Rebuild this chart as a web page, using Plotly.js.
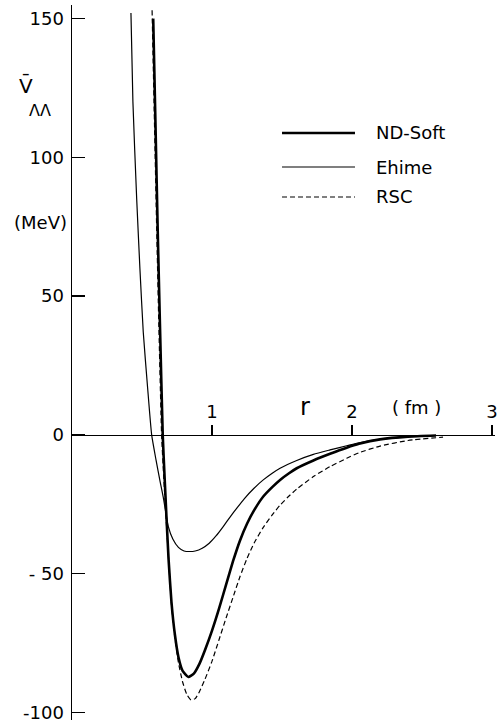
<!DOCTYPE html>
<html>
<head>
<meta charset="utf-8">
<script src="https://cdn.plot.ly/plotly-3.0.1.min.js"></script>
<style>html,body{margin:0;padding:0;background:#fff;}#chart{width:499px;height:724px;}</style>
</head>
<body>
<div id="chart"></div>
<script>
// ND-Soft (thick solid)
const ndR = [0.580,0.597,0.612,0.628,0.648,0.662,0.676,0.690,0.710,0.735,0.760,0.790,0.831,0.870,0.910,0.950,1.000,1.050,1.100,1.150,1.200,1.250,1.300,1.366,1.430,1.486,1.550,1.605,1.724,1.843,1.962,2.050,2.200,2.400,2.600];
const ndV = [150,110,74,40,0,-16,-31,-45,-60,-72,-80,-85,-87.2,-86,-82.5,-77.5,-70.5,-62.6,-54,-45.5,-38,-32,-27.2,-22.2,-18.8,-16.2,-13.8,-12,-9.2,-6.8,-4.6,-3.2,-1.6,-0.6,-0.2];
// Ehime (thin solid)
const ehR = [0.421,0.435,0.462,0.485,0.509,0.540,0.569,0.600,0.630,0.652,0.670,0.688,0.720,0.760,0.800,0.840,0.880,0.930,0.980,1.030,1.080,1.130,1.180,1.230,1.300,1.366,1.430,1.486,1.605,1.724,1.843,1.962,2.050,2.200,2.400,2.600];
const ehV = [152,120,85,60,37,17,0,-9,-17,-22.5,-28,-33,-37.5,-40.5,-41.8,-42,-41.8,-40.8,-39,-36.3,-33,-29.5,-26.2,-23,-19.2,-16.2,-13.8,-12,-9.2,-7,-5.4,-3.9,-2.8,-1.6,-0.7,-0.2];
// RSC (dashed)
const rsR = [0.572,0.590,0.605,0.620,0.640,0.655,0.672,0.690,0.712,0.735,0.760,0.790,0.820,0.850,0.880,0.910,0.950,1.000,1.050,1.100,1.150,1.200,1.250,1.300,1.366,1.430,1.486,1.550,1.605,1.724,1.843,1.962,2.050,2.200,2.400,2.650];
const rsV = [153,110,74,40,0,-15,-30,-45,-62,-73,-82,-89,-93.5,-95.5,-95,-92.5,-88,-81.5,-73.8,-66,-58.5,-51,-44.5,-39,-33.3,-28.8,-25.3,-22,-19.5,-15,-11.4,-8.4,-6.4,-4,-2,-0.8];

const seriesNames = ['ND-Soft','Ehime','RSC'];
const yTickVals = [150,100,50,0,-50,-100];
const yTickText = ['150','100','50','0','- 50','-100'];
const xTickVals = [1,2,3];
const xTickText = ['1','2','3'];

const yRange = [-102.7, 154.9];
const xRange = [0, 3.021];
const FONT = 'DejaVu Sans';

const styles = [
  {color:'#000', width:2.6, dash:'solid'},
  {color:'#000', width:1.2, dash:'solid'},
  {color:'#000', width:1.2, dash:'5px,3px'}
];
const xs = [ndR, ehR, rsR];
const ys = [ndV, ehV, rsV];

const traces = seriesNames.map((n,i)=>({
  x: xs[i], y: ys[i], name: n, type:'scatter', mode:'lines',
  line: Object.assign({shape:'spline', smoothing:0.5}, styles[i]),
  showlegend:false, hoverinfo:'skip'
}));

// legend drawn manually (long line samples)
const legY = [0.821, 0.7734, 0.7315];
const shapes = seriesNames.map((n,i)=>({
  type:'line', xref:'paper', yref:'paper', x0:0.4965, x1:0.669, y0:legY[i], y1:legY[i],
  line:{color:'#000', width:styles[i].width, dash:styles[i].dash}
}));
const annotations = seriesNames.map((n,i)=>({
  xref:'paper', yref:'paper', x:0.7140, y:legY[i], xanchor:'left', yanchor:'middle',
  text:n, showarrow:false, font:{family:FONT, size:18, color:'#000'}
}));
annotations.push(
  {xref:'paper', yref:'paper', x:(26-72)/423, y:(720-86)/715, xanchor:'center', yanchor:'middle', text:'V\u0304', showarrow:false, font:{family:FONT, size:20, color:'#000'}},
  {xref:'paper', yref:'paper', x:(40-72)/423, y:(720-110)/715, xanchor:'center', yanchor:'middle', text:'\u039B\u039B', showarrow:false, font:{family:FONT, size:16, color:'#000'}},
  {xref:'paper', yref:'paper', x:(40-72)/423, y:(720-223)/715, xanchor:'center', yanchor:'middle', text:'(MeV)', showarrow:false, font:{family:FONT, size:18, color:'#000'}},
  {xref:'paper', yref:'paper', x:(305-72)/423, y:(720-407)/715, xanchor:'center', yanchor:'middle', text:'r', showarrow:false, font:{family:FONT, size:24, color:'#000'}},
  {xref:'paper', yref:'paper', x:(416-72)/423, y:(720-407)/715, xanchor:'center', yanchor:'middle', text:'( fm )', showarrow:false, font:{family:FONT, size:18, color:'#000'}}
);

const layout = {
  width:499, height:724,
  margin:{l:72, r:4, t:5, b:4, pad:0},
  paper_bgcolor:'#fff', plot_bgcolor:'#fff',
  showlegend:false,
  xaxis:{
    range:xRange, anchor:'free', position:(0-yRange[0])/(yRange[1]-yRange[0]), side:'top',
    showgrid:false, zeroline:false, showline:true, linecolor:'#000', linewidth:1.3,
    ticks:'outside', ticklen:10, tickwidth:1.3, tickcolor:'#000',
    tickvals:xTickVals, ticktext:xTickText,
    tickfont:{family:FONT, size:18, color:'#000'}
  },
  yaxis:{
    range:yRange, showgrid:false, zeroline:false, showline:true, linecolor:'#000', linewidth:1.5,
    ticks:'inside', ticklen:13, tickwidth:1.5, tickcolor:'#000',
    tickvals:yTickVals, ticktext:yTickText,
    tickfont:{family:FONT, size:18, color:'#000'}, ticklabelstandoff:3
  },
  shapes:shapes, annotations:annotations
};
Plotly.newPlot('chart', traces, layout, {staticPlot:true, displayModeBar:false});
</script>
</body>
</html>
